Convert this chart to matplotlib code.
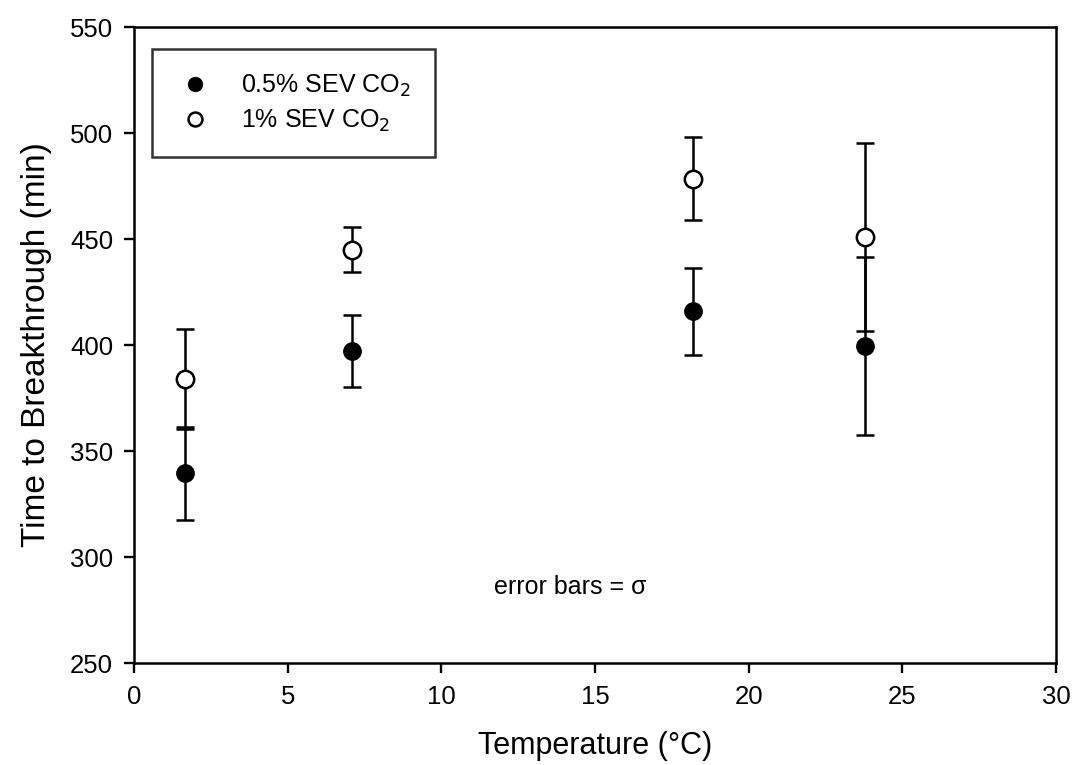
import matplotlib
matplotlib.use("Agg")
import matplotlib.pyplot as plt

plt.rcParams['font.family'] = ['Liberation Sans', 'DejaVu Sans']

# Temperature (deg C) of each test
temp = [1.66, 7.08, 18.2, 23.8]

# 0.5% SEV CO2: mean time to breakthrough and sigma (min)
t_half = [339.5, 397.0, 416.0, 399.5]
sd_half = [22.0, 17.0, 20.5, 42.0]

# 1% SEV CO2: mean time to breakthrough and sigma (min)
t_one = [384.0, 445.0, 478.5, 451.0]
sd_one = [23.5, 10.5, 19.5, 44.5]

fig = plt.figure(figsize=(10.74, 7.65), dpi=100)
ax = fig.add_axes([0.1248, 0.1333, 0.8584, 0.8314])

ax.errorbar(temp, t_half, yerr=sd_half, fmt='o', color='black', mfc='black',
            mec='black', ms=12.5, elinewidth=1.8, capsize=6.5, capthick=1.8,
            label='0.5% SEV CO$_2$', zorder=3)
ax.errorbar(temp, t_one, yerr=sd_one, fmt='o', color='black', mfc='white',
            mec='black', ms=12.5, mew=1.8, elinewidth=1.8, capsize=6.5, capthick=1.8,
            label='1% SEV CO$_2$', zorder=3)

ax.set_xlim(0, 30)
ax.set_ylim(250, 550)
ax.set_xticks(range(0, 31, 5))
ax.set_yticks(range(250, 551, 50))
ax.tick_params(direction='out', length=7, width=1.7, labelsize=18.5)
ax.tick_params(axis='y', pad=8)
ax.tick_params(axis='x', pad=9)
for s in ax.spines.values():
    s.set_linewidth(1.8)

ax.set_xlabel('Temperature (°C)', fontsize=22, labelpad=16)
ax.set_ylabel('Time to Breakthrough (min)', fontsize=24, labelpad=13)

ax.text(14.2, 286, 'error bars = σ', fontsize=18, ha='center', va='center')

# legend without error bars, smaller markers
h, l = ax.get_legend_handles_labels()
h = [hh[0] for hh in h]
leg = ax.legend(h, l, loc='upper left', bbox_to_anchor=(0.02, 0.966),
                fontsize=18, markerscale=0.8, frameon=True, fancybox=False,
                edgecolor='black', borderpad=0.95, handletextpad=1.1,
                labelspacing=0.35, handlelength=1.5, borderaxespad=0)
leg.get_frame().set_linewidth(1.8)

fig.savefig('out.png', dpi=100)
